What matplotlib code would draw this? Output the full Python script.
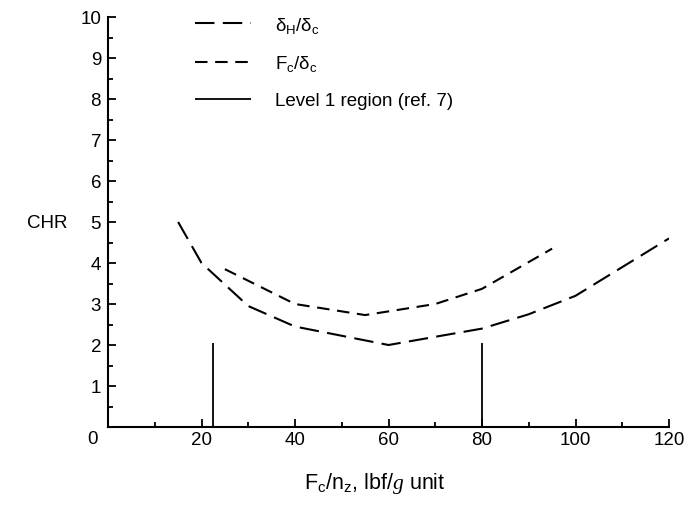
import matplotlib
matplotlib.use("Agg")
import matplotlib.pyplot as plt
from matplotlib.ticker import MultipleLocator, FixedLocator

# Data
dh_x = [15, 20, 30, 40, 60, 80, 90, 100, 120]
dh_y = [5.0, 4.0, 2.95, 2.45, 2.0, 2.4, 2.75, 3.2, 4.6]
fc_x = [25, 40, 55, 70, 80, 95]
fc_y = [3.85, 3.0, 2.73, 3.0, 3.37, 4.35]
level1_x = [22.5, 80]
level1_top = [2.05, 2.05]
x_ticks = [20, 40, 60, 80, 100, 120]
y_ticks = [1, 2, 3, 4, 5, 6, 7, 8, 9, 10]

plt.rcParams['font.family'] = ['Liberation Sans', 'DejaVu Sans']
plt.rcParams['mathtext.fontset'] = 'custom'
plt.rcParams['mathtext.rm'] = 'Liberation Sans'
plt.rcParams['mathtext.it'] = 'Liberation Serif:italic'
plt.rcParams['lines.scale_dashes'] = False

FS = 13.5

fig = plt.figure(figsize=(6.92, 5.06), dpi=100)
ax = fig.add_axes([108 / 692, 78 / 506, 561 / 692, 410 / 506])

ax.plot(dh_x, dh_y, color='black', lw=1.5, dashes=(14, 6),
        label=r'$\mathregular{\delta_H/\delta_c}$')
ax.plot(fc_x, fc_y, color='black', lw=1.5, dashes=(9, 5.5),
        label=r'$\mathregular{F_c/\delta_c}$')
ax.vlines(level1_x, 0, level1_top, color='black', lw=1.3,
          label='Level 1 region (ref. 7)')

ax.set_xlim(0, 120)
ax.set_ylim(0, 10)
ax.spines['top'].set_visible(False)
ax.spines['right'].set_visible(False)
for s in ('left', 'bottom'):
    ax.spines[s].set_linewidth(1.5)

ax.xaxis.set_major_locator(FixedLocator(x_ticks))
ax.xaxis.set_minor_locator(MultipleLocator(10))
ax.yaxis.set_major_locator(FixedLocator(y_ticks))
ax.yaxis.set_minor_locator(MultipleLocator(0.5))
ax.tick_params(which='both', direction='in', width=1.3, labelsize=FS)
ax.tick_params(which='major', length=6)
ax.tick_params(which='minor', length=3.5)
ax.tick_params(axis='x', pad=3)
ax.tick_params(axis='y', pad=5)

# shared origin label sits at the corner
ax.annotate('0', xy=(0, 0), xytext=(-15, -3), textcoords='offset pixels',
            ha='center', va='top', fontsize=FS)

ax.set_ylabel('CHR', rotation=0, fontsize=FS, va='center', ha='center')
ax.yaxis.set_label_coords(-0.109, 0.5)
ax.set_xlabel(r'$\mathregular{F_c/n_z}$, lbf/$\mathit{g}$ unit', fontsize=15.5)
ax.xaxis.set_label_coords(0.475, -0.105)

leg = ax.legend(loc='upper left', bbox_to_anchor=(191 / 692, 1.0 - 12 / 506),
                bbox_transform=fig.transFigure, frameon=False, fontsize=FS,
                handlelength=3.0, handletextpad=1.3, borderpad=0.2,
                borderaxespad=0, labelspacing=1.0)

fig.savefig('out.png', dpi=100)
